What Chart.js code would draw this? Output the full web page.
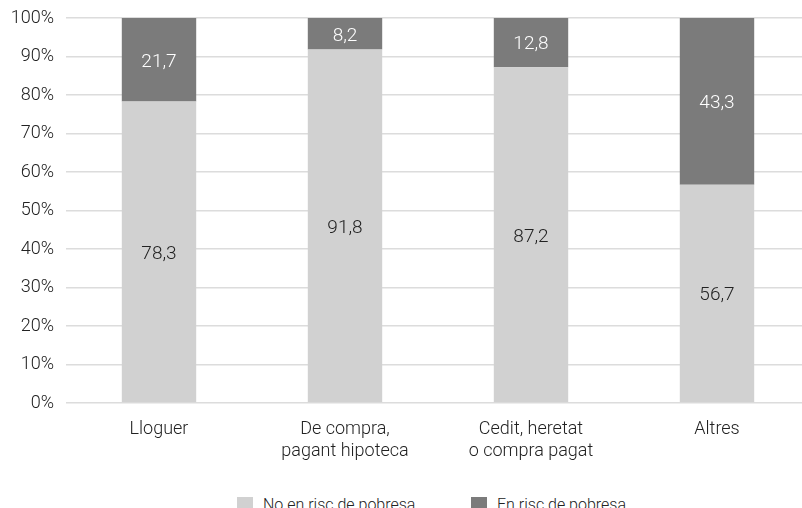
<!DOCTYPE html>
<html lang="ca">
<head>
  <meta charset="UTF-8">
  <title>Risc de pobresa segons règim de tinença</title>
  <script src="https://cdn.jsdelivr.net/npm/chart.js"></script>
  <style>
    body {
      margin: 0;
      background: #fff;
      overflow: hidden;
      font-family: Roboto, "Liberation Sans", sans-serif;
      font-weight: 300;
    }
    .wrap {
      position: relative;
      width: 810px;
      height: 475px;
    }
    .legend span {
      position: absolute;
      top: 497px;
      display: flex;
      align-items: flex-start;
      gap: 10px;
      font-size: 16px;
      line-height: 16px;
      color: #222;
      white-space: nowrap;
    }
    .legend i {
      display: inline-block;
      width: 16px;
      height: 16px;
    }
  </style>
</head>
<body>
  <div class="wrap">
    <canvas id="chart"></canvas>
  </div>
  <div class="legend">
    <span style="left:237px"><i style="background:#d1d1d1"></i>No en risc de pobresa</span>
    <span style="left:471px"><i style="background:#7b7b7b"></i>En risc de pobresa</span>
  </div>

<script>
  const categories = [['Lloguer'], ['De compra,', 'pagant hipoteca'], ['Cedit, heretat', 'o compra pagat'], ['Altres']];
  const noRisc = [78.3, 91.8, 87.2, 56.7];
  const risc = [21.7, 8.2, 12.8, 43.3];
  const seriesNames = ['No en risc de pobresa', 'En risc de pobresa'];

  const fontFamily = 'Roboto, "Liberation Sans", sans-serif';

  // values written in the middle of each segment
  const segmentLabels = {
    id: 'segmentLabels',
    afterDatasetsDraw(chart) {
      const ctx = chart.ctx;
      ctx.save();
      ctx.font = '300 19px ' + fontFamily;
      ctx.textAlign = 'center';
      ctx.textBaseline = 'middle';
      chart.data.datasets.forEach((ds, i) => {
        const meta = chart.getDatasetMeta(i);
        ctx.fillStyle = i === 0 ? '#222' : '#fff';
        meta.data.forEach((bar, j) => {
          const p = bar.getProps(['x', 'y', 'base'], true);
          ctx.fillText(ds.data[j].toFixed(1).replace('.', ','), p.x, (p.y + p.base) / 2 + 2);
        });
      });
      ctx.restore();
    }
  };

  new Chart(document.getElementById('chart'), {
    type: 'bar',
    data: {
      labels: categories,
      datasets: [
        { label: seriesNames[0], data: noRisc, backgroundColor: '#d1d1d1' },
        { label: seriesNames[1], data: risc, backgroundColor: '#7b7b7b' }
      ]
    },
    options: {
      responsive: true,
      maintainAspectRatio: false,
      animation: false,
      barPercentage: 0.4,
      categoryPercentage: 1,
      layout: { padding: { top: 18, left: 0, right: 0, bottom: 0 } },
      plugins: {
        legend: { display: false },
        tooltip: { enabled: false }
      },
      scales: {
        x: {
          stacked: true,
          grid: { display: false },
          border: { display: false },
          ticks: {
            color: '#222',
            padding: 7,
            font: { family: fontFamily, size: 18, weight: 300, lineHeight: 1.25 }
          },
          afterFit(scale) { scale.height = 72; }
        },
        y: {
          stacked: true,
          min: 0,
          max: 100,
          border: { display: false },
          grid: { color: '#dcdcdc', lineWidth: 1.5, drawTicks: false },
          ticks: {
            stepSize: 10,
            padding: 12,
            color: '#222',
            font: { family: fontFamily, size: 18, weight: 300 },
            callback: v => v + '%'
          },
          afterFit(scale) {
            scale.width = 66;
            scale.paddingTop = 0;
            scale.paddingBottom = 0;
          }
        }
      }
    },
    plugins: [segmentLabels]
  });
</script>
</body>
</html>
